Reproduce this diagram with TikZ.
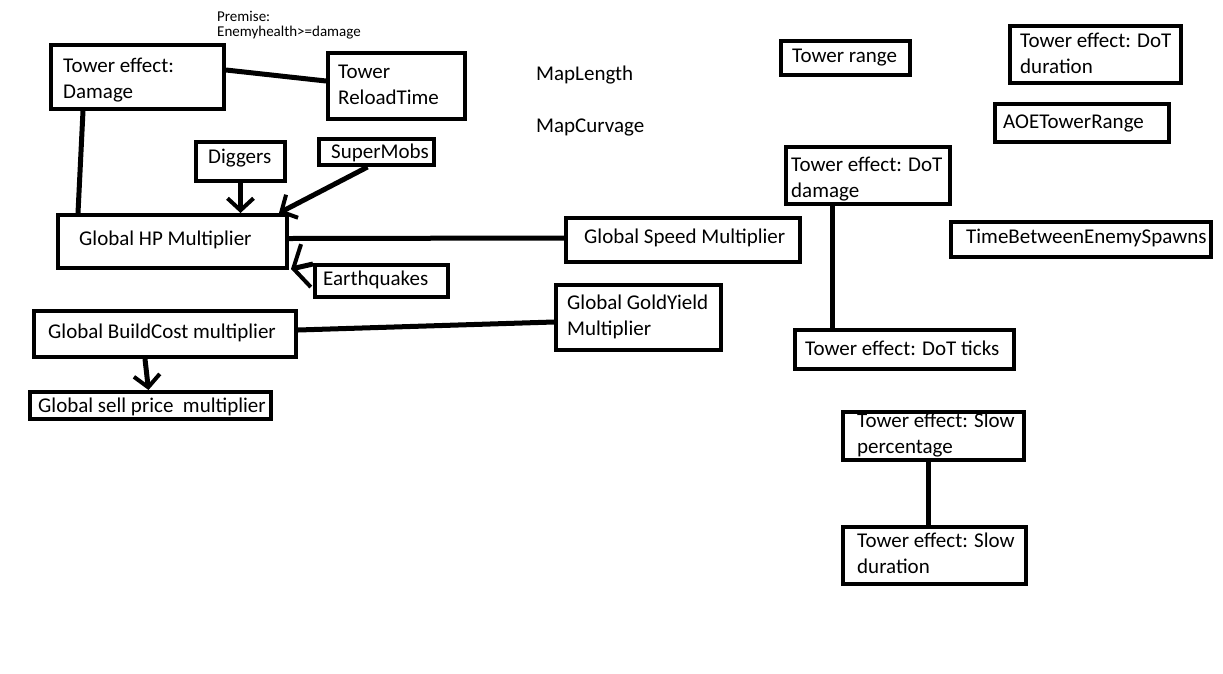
\documentclass[tikz,border=0pt]{standalone}
\usepackage{fontspec}
\setmainfont{Carlito}
\usetikzlibrary{arrows.meta}
\begin{document}
\begin{tikzpicture}[x=1pt,y=-1pt,
  box/.style={draw, line width=4pt, inner sep=0pt},
  txt/.style={font=\fontsize{21}{26}\selectfont, inner sep=0pt, anchor=base west, align=left},
  small/.style={font=\fontsize{15}{14.5}\selectfont, inner sep=0pt, anchor=base west, align=left},
  con/.style={line width=5pt},
  arr/.style={line width=5pt, -{Straight Barb[length=12pt,width=26pt,line width=4pt]}},
  bigarr/.style={line width=5pt, -{Straight Barb[length=13pt,width=44pt,line width=4pt]}}]
\useasboundingbox[fill=white] (0,0) rectangle (1223,673);
\newcommand\mkbox[5]{\node[box, minimum width={(#4-#2)*1pt}, minimum height={(#5-#3)*1pt}] (#1) at ({(#2+#4)/2},{(#3+#5)/2}) {};}
% boxes
\mkbox{dmg}{51}{45}{224}{109}
\mkbox{rel}{328}{53}{465}{119}
\mkbox{dig}{196}{142}{285}{181}
\mkbox{sup}{319}{139}{434}{165}
\mkbox{hp}{58}{215}{287}{268}
\mkbox{eq}{315}{265}{448}{297}
\mkbox{bc}{34}{311}{296}{357}
\mkbox{sell}{30}{392}{271}{419}
\mkbox{spd}{566}{218}{800}{262}
\mkbox{gold}{556}{285}{721}{350}
\mkbox{rng}{781}{41}{910}{75}
\mkbox{dotdur}{1010}{26}{1181}{83}
\mkbox{aoe}{995}{104}{1169}{142}
\mkbox{dotdmg}{786}{147}{950}{204}
\mkbox{tbs}{951}{222}{1211}{257}
\mkbox{tick}{795}{330}{1014}{369}
\mkbox{slp}{843}{412}{1024}{460}
\mkbox{sld}{843}{527}{1026}{584}
% texts (anchor = baseline of last line)
\node[small] (premise) at (217,36) {Premise:\\Enemyhealth>=damage};
\node[txt] (dmg-t) at (63,98) {Tower effect:\\Damage};
\node[txt] (rel-t) at (338,104) {Tower\\ReloadTime};
\node[txt] (dig-t) at (208,163) {Diggers};
\node[txt] (sup-t) at (331,158) {SuperMobs};
\node[txt] (hp-t) at (79,245) {Global HP Multiplier};
\node[txt] (eq-t) at (323,285) {Earthquakes};
\node[txt] (bc-t) at (48,338) {Global BuildCost multiplier};
\node[txt] (sell-t) at (38,412) {Global sell price\ \ multiplier};
\node[txt] (spd-t) at (584,243) {Global Speed Multiplier};
\node[txt] (gold-t) at (567,335) {Global GoldYield\\Multiplier};
\node[txt] (rng-t) at (792,62) {Tower range};
\node[txt] (dotdur-t) at (1020,73) {Tower effect: DoT\\duration};
\node[txt] (aoe-t) at (1003,128) {AOETowerRange};
\node[txt] (dotdmg-t) at (791,197) {Tower effect: DoT\\damage};
\node[txt] (tbs-t) at (966,243) {TimeBetweenEnemySpawns};
\node[txt] (tick-t) at (805,355) {Tower effect: DoT ticks};
\node[txt] (slp-t) at (857,453) {Tower effect: Slow\\percentage};
\node[txt] (sld-t) at (857,573) {Tower effect: Slow\\duration};
\node[txt] (maplen) at (536,80) {MapLength};
\node[txt] (mapcurv) at (536,132) {MapCurvage};
% connectors
\draw[con] ([yshift=7pt]dmg.east) -- ([yshift=5pt]rel.west);
\draw[con] ([xshift=34pt]dmg.south west) -- ([xshift=22pt]hp.north west);
\draw[arr] (dig.south) -- (dig.south |- hp.north);
\draw[arr] ([xshift=-9pt]sup.south) -- ([xshift=-10pt]hp.north east);
\draw[bigarr] ([yshift=-1pt]eq.north west) -- ([xshift=2pt,yshift=1pt]hp.south east);
\draw[con] ([yshift=3pt]hp.east) -- ([yshift=2pt]spd.west);
\draw[con] ([yshift=4pt]bc.east) -- ([yshift=-4.5pt]gold.west);
\draw[arr] ([xshift=-20pt]bc.south) -- ([xshift=-2pt]sell.north);
\draw[con] ([xshift=-36pt]dotdmg.south) -- ([xshift=-36pt]dotdmg.south |- tick.north);
\draw[con] ([xshift=-5.5pt]slp.south) -- ([xshift=-5.5pt]slp.south |- sld.north);
\end{tikzpicture}
\end{document}
